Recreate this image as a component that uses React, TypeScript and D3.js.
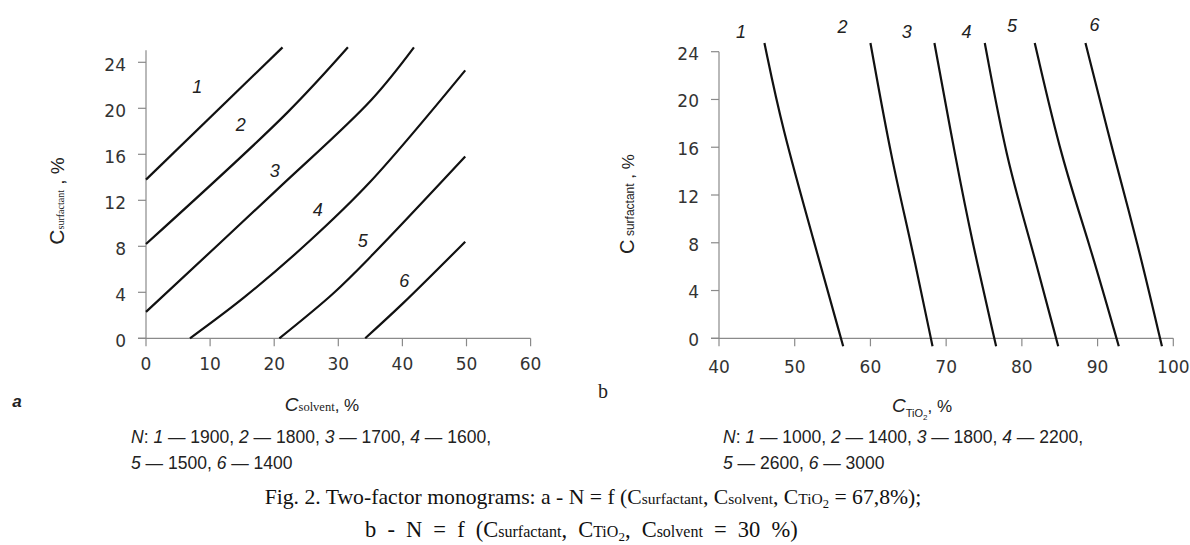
import React from "react";
import * as d3 from "d3";

// ---------- Panel a: C_surfactant vs C_solvent ----------
const aXTicks = [0, 10, 20, 30, 40, 50, 60];
const aYTicks = [0, 4, 8, 12, 16, 20, 24];
const aLabels = ["1", "2", "3", "4", "5", "6"];
// curve points [C_solvent, C_surfactant]
const aN1900: [number, number][] = [[0, 13.8], [21.3, 25.3]];
const aN1800: [number, number][] = [[0, 8.2], [22, 19.6], [31.5, 25.3]];
const aN1700: [number, number][] = [[0, 2.3], [20.2, 12.8], [35.1, 20.7], [41.8, 25.3]];
const aN1600: [number, number][] = [[6.86, 0], [15.4, 3.6], [25.6, 8.5], [34.8, 13.5], [49.8, 23.3]];
const aN1500: [number, number][] = [[20.8, 0], [29.2, 3.9], [35.4, 7.3], [49.8, 15.8]];
const aN1400: [number, number][] = [[34.2, 0], [40.2, 3.1], [49.8, 8.4]];
const aLabelPos: [number, number][] = [[8.0, 21.9], [14.8, 18.6], [20.1, 14.6], [26.8, 11.2], [33.8, 8.5], [40.3, 5.0]];

// ---------- Panel b: C_surfactant vs C_TiO2 ----------
const bXTicks = [40, 50, 60, 70, 80, 90, 100];
const bYTicks = [0, 4, 8, 12, 16, 20, 24];
const bLabels = ["1", "2", "3", "4", "5", "6"];
const bN1000: [number, number][] = [[46.0, 24.73], [48.3, 17.7], [52.5, 8.2], [56.4, -0.67]];
const bN1400: [number, number][] = [[60.0, 24.73], [62.8, 14.9], [65.3, 8.2], [68.2, -0.67]];
const bN1800: [number, number][] = [[68.45, 24.73], [71.3, 14.9], [73.4, 8.2], [76.6, -0.67]];
const bN2200: [number, number][] = [[75.1, 24.73], [78.0, 14.9], [81.1, 8.2], [84.8, -0.67]];
const bN2600: [number, number][] = [[81.7, 24.73], [85.3, 14.9], [88.8, 8.2], [92.8, -0.67]];
const bN3000: [number, number][] = [[88.4, 24.73], [92.3, 14.9], [95.2, 8.2], [98.5, -0.67]];
const bLabelPos: [number, number][] = [[42.9, 25.65], [56.3, 26.07], [64.8, 25.65], [72.7, 25.65], [78.7, 26.2], [89.6, 26.3]];

const aLegend = ["N: 1 — 1900, 2 — 1800, 3 — 1700, 4 — 1600,", "5 — 1500, 6 — 1400"];
const bLegend = ["N: 1 — 1000, 2 — 1400, 3 — 1800, 4 — 2200,", "5 — 2600, 6 — 3000"];

const AXIS = "#8a8a8a";
const TXT = "#333";
const TICKFONT = "'DejaVu Sans', sans-serif";
const SANS = "'Liberation Sans', Arial, sans-serif";
const SERIF = "'Liberation Serif', 'Times New Roman', serif";

// legend line: italic N and italic curve numbers
function LegendLine({ text, x, y }: { text: string; x: number; y: number }) {
  const parts: React.ReactNode[] = [];
  const re = /(N)(:)|(\d)( — )(\d+)(,?)/g;
  let m: RegExpExecArray | null;
  let i = 0;
  while ((m = re.exec(text))) {
    if (m[1]) {
      parts.push(<tspan key={i++} fontStyle="italic">N</tspan>);
      parts.push(<tspan key={i++}>: </tspan>);
    } else {
      parts.push(<tspan key={i++} fontStyle="italic">{m[3]}</tspan>);
      parts.push(<tspan key={i++}>{" — " + m[5] + m[6] + " "}</tspan>);
    }
  }
  return (
    <text x={x} y={y} fontFamily={SANS} fontSize={17.5} fill="#222">
      {parts}
    </text>
  );
}

export default function App() {
  const ax = d3.scaleLinear().domain([0, 60]).range([146, 530.6]);
  const ay = d3.scaleLinear().domain([0, 24]).range([338.3, 62.3]);
  const bx = d3.scaleLinear().domain([40, 100]).range([719, 1173.3]);
  const by = d3.scaleLinear().domain([0, 24]).range([338.3, 51.7]);

  const aLine = d3.line<[number, number]>().x((d) => ax(d[0])).y((d) => ay(d[1])).curve(d3.curveCatmullRom.alpha(0.5));
  const bLine = d3.line<[number, number]>().x((d) => bx(d[0])).y((d) => by(d[1])).curve(d3.curveBasis);

  const aCurves = [aN1900, aN1800, aN1700, aN1600, aN1500, aN1400];
  const bCurves = [bN1000, bN1400, bN1800, bN2200, bN2600, bN3000];
  const tick = 8;

  return (
    <svg width={1190} height={545} style={{ position: "absolute", left: 0, top: 0, background: "#fff" }}>
      <rect width={1190} height={545} fill="#fff" />

      {/* ---------- Panel a ---------- */}
      <g>
        <line x1={ax(0)} x2={ax(0)} y1={ay(0)} y2={ay(25.05)} stroke={AXIS} strokeWidth={1.2} />
        <line x1={ax(0) - tick} x2={ax(60)} y1={ay(0)} y2={ay(0)} stroke={AXIS} strokeWidth={1.2} />
        {aXTicks.map((t) => (
          <g key={"ax" + t}>
            <line x1={ax(t)} x2={ax(t)} y1={ay(0)} y2={ay(0) + tick} stroke={AXIS} strokeWidth={1.2} />
            <text x={ax(t)} y={ay(0) + 26} textAnchor="middle" fontFamily={TICKFONT} fontSize={17} fill={TXT} dy="0.35em">
              {t}
            </text>
          </g>
        ))}
        {aYTicks.map((t) => (
          <g key={"ay" + t}>
            <line x1={ax(0) - tick} x2={ax(0)} y1={ay(t)} y2={ay(t)} stroke={AXIS} strokeWidth={1.2} />
            <text x={ax(0) - 20} y={ay(t) + 2.5} textAnchor="end" fontFamily={TICKFONT} fontSize={17} fill={TXT} dy="0.35em">
              {t}
            </text>
          </g>
        ))}
        {aCurves.map((c, i) => (
          <path key={"ac" + i} d={aLine(c) || ""} fill="none" stroke="#111" strokeWidth={2.2} />
        ))}
        {aLabels.map((l, i) => (
          <text key={"al" + i} x={ax(aLabelPos[i][0])} y={ay(aLabelPos[i][1])} textAnchor="middle" dy="0.35em"
            fontFamily={SANS} fontStyle="italic" fontSize={18} fill="#222">
            {l}
          </text>
        ))}
        {/* y title */}
        <text transform="translate(64,201) rotate(-90)" textAnchor="middle" fill="#222">
          <tspan fontFamily={SANS} fontSize={21}>C</tspan>
          <tspan fontFamily={SERIF} fontSize={10}>surfactant</tspan>
          <tspan fontFamily={SANS} fontSize={19}> , %</tspan>
        </text>
        {/* x title */}
        <text x={322} y={411} textAnchor="middle" fill="#222">
          <tspan fontFamily={SANS} fontStyle="italic" fontSize={19}>C</tspan>
          <tspan fontFamily={SERIF} fontSize={12.5}>solvent</tspan>
          <tspan fontFamily={SANS} fontSize={17}>, %</tspan>
        </text>
        <text x={17} y={407} textAnchor="middle" fontFamily={SANS} fontStyle="italic" fontWeight="bold" fontSize={17} fill="#222">
          a
        </text>
        {aLegend.map((t, i) => (
          <LegendLine key={"alg" + i} text={t} x={131} y={443 + i * 26} />
        ))}
      </g>

      {/* ---------- Panel b ---------- */}
      <g>
        <line x1={bx(40)} x2={bx(40)} y1={by(0)} y2={by(24)} stroke={AXIS} strokeWidth={1.2} />
        <line x1={bx(40) - tick} x2={bx(100)} y1={by(0)} y2={by(0)} stroke={AXIS} strokeWidth={1.2} />
        {bXTicks.map((t) => (
          <g key={"bx" + t}>
            <line x1={bx(t)} x2={bx(t)} y1={by(0)} y2={by(0) + tick} stroke={AXIS} strokeWidth={1.2} />
            <text x={bx(t)} y={by(0) + 29} textAnchor="middle" fontFamily={TICKFONT} fontSize={17} fill={TXT} dy="0.35em">
              {t}
            </text>
          </g>
        ))}
        {bYTicks.map((t) => (
          <g key={"by" + t}>
            <line x1={bx(40) - tick} x2={bx(40)} y1={by(t)} y2={by(t)} stroke={AXIS} strokeWidth={1.2} />
            <text x={bx(40) - 20} y={by(t) + 2} textAnchor="end" fontFamily={TICKFONT} fontSize={17} fill={TXT} dy="0.35em">
              {t}
            </text>
          </g>
        ))}
        {bCurves.map((c, i) => (
          <path key={"bc" + i} d={bLine(c) || ""} fill="none" stroke="#111" strokeWidth={2.2} />
        ))}
        {bLabels.map((l, i) => (
          <text key={"bl" + i} x={bx(bLabelPos[i][0])} y={by(bLabelPos[i][1])} textAnchor="middle" dy="0.35em"
            fontFamily={SANS} fontStyle="italic" fontSize={18} fill="#222">
            {l}
          </text>
        ))}
        <text transform="translate(634,204) rotate(-90)" textAnchor="middle" fill="#222">
          <tspan fontFamily={SANS} fontSize={20}>C</tspan>
          <tspan fontFamily={SANS} fontSize={12}> surfactant</tspan>
          <tspan fontFamily={SANS} fontSize={17}> , %</tspan>
        </text>
        <text x={892} y={412} fill="#222">
          <tspan fontFamily={SANS} fontStyle="italic" fontSize={19}>C</tspan>
          <tspan fontFamily={SANS} fontSize={11} dy={5}>TiO</tspan>
          <tspan fontFamily={SANS} fontSize={8} dy={3}>2</tspan>
          <tspan fontFamily={SANS} fontSize={17} dy={-8}>, %</tspan>
        </text>
        <text x={603} y={398} textAnchor="middle" fontFamily={SERIF} fontSize={20} fill="#222">
          b
        </text>
        {bLegend.map((t, i) => (
          <LegendLine key={"blg" + i} text={t} x={723} y={443 + i * 26} />
        ))}
      </g>

      {/* ---------- Figure caption ---------- */}
      <text x={593} y={504} textAnchor="middle" fontFamily={SERIF} fontSize={21.7} fill="#111">
        <tspan>Fig. 2. Two-factor monograms: a - N = f (C</tspan>
        <tspan fontSize={15.5}>surfactant</tspan>
        <tspan>, C</tspan>
        <tspan fontSize={15.5}>solvent</tspan>
        <tspan>, C</tspan>
        <tspan fontSize={15.5}>TiO</tspan>
        <tspan fontSize={12.5} dy={4}>2</tspan>
        <tspan dy={-4}> = 67,8%);</tspan>
      </text>
      <text x={365} y={537} fontFamily={SERIF} fontSize={22.5} wordSpacing={5.5} fill="#111">
        <tspan>b - N = f (C</tspan>
        <tspan fontSize={16}>surfactant</tspan>
        <tspan>, C</tspan>
        <tspan fontSize={16}>TiO</tspan>
        <tspan fontSize={13} dy={4}>2</tspan>
        <tspan dy={-4}>, C</tspan>
        <tspan fontSize={16}>solvent</tspan>
        <tspan> = 30 %)</tspan>
      </text>
    </svg>
  );
}
